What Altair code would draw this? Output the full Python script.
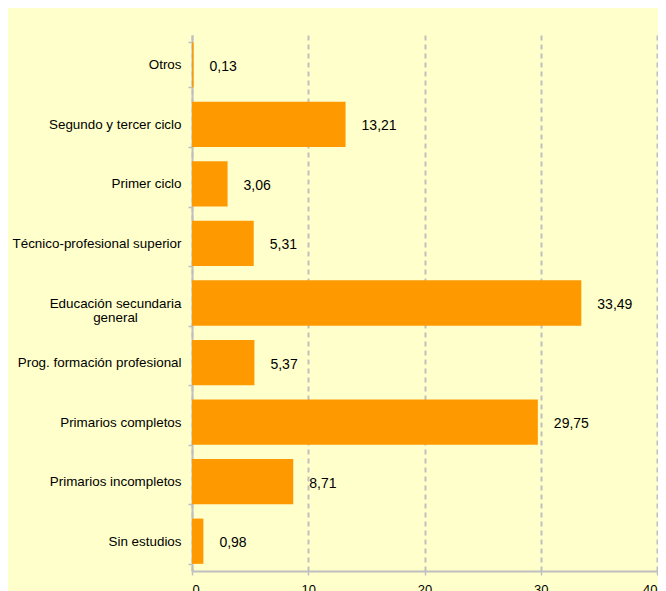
import altair as alt
import pandas as pd

categories = [
    "Otros",
    "Segundo y tercer ciclo",
    "Primer ciclo",
    "Técnico-profesional superior",
    "Educación secundaria general",
    "Prog. formación profesional",
    "Primarios completos",
    "Primarios incompletos",
    "Sin estudios",
]
values = [0.13, 13.21, 3.06, 5.31, 33.49, 5.37, 29.75, 8.71, 0.98]
x_ticks = [0, 10, 20, 30, 40]

df = pd.DataFrame({"cat": categories, "val": values})

FONT = "Liberation Sans"
GRAY = "#BFBFBF"

wrap_test = "datum.value == 'Educación secundaria general'"
label_expr = (
    wrap_test + " ? ['Educación secundaria', 'general'] : datum.label"
)

y_enc = alt.Y(
    "cat:N",
    sort=categories,
    title=None,
    scale=alt.Scale(paddingInner=0.24, paddingOuter=0.12),
    axis=alt.Axis(
        tickBand="extent",
        domainColor=GRAY,
        domainWidth=2,
        tickColor=GRAY,
        tickSize=4,
        tickWidth=1.5,
        labelFont=FONT,
        labelFontSize=13.4,
        labelColor="#000000",
        labelAlign={"condition": {"test": wrap_test, "value": "center"}, "value": "right"},
        labelPadding={"condition": {"test": wrap_test, "value": 73}, "value": 7},
        labelLineHeight=14.5,
        labelExpr=label_expr,
        grid=False,
    ),
)

x_enc = alt.X(
    "val:Q",
    title=None,
    scale=alt.Scale(domain=[0, 40], nice=False),
    axis=alt.Axis(
        values=x_ticks,
        grid=True,
        gridColor=GRAY,
        gridDash=[5, 4],
        gridWidth=2,
        domainColor=GRAY,
        domainWidth=2,
        tickColor=GRAY,
        tickSize=4,
        tickWidth=1.5,
        labelFont=FONT,
        labelFontSize=13,
        labelColor="#000000",
        labelPadding=8,
    ),
)

base = alt.Chart(df)

bars = base.mark_bar(color="#FF9900").encode(x=x_enc, y=y_enc)

text = (
    base.transform_calculate(lbl="replace(format(datum.val, '.2f'), '.', ',')")
    .mark_text(
        align="left",
        baseline="middle",
        dx=16,
        dy=2,
        font=FONT,
        fontSize=14,
        color="#000000",
    )
    .encode(x=alt.X("val:Q"), y=alt.Y("cat:N", sort=categories), text="lbl:N")
)

chart = (
    alt.layer(bars, text)
    .properties(
        width=465,
        height=536,
        background="#FFFFCC",
        autosize=alt.AutoSizeParams(type="none"),
        padding={"left": 184, "top": 27, "right": 1, "bottom": 20},
    )
    .configure_view(stroke=None)
)

chart.save("out.html", embed_options={"renderer": "svg", "actions": False})
